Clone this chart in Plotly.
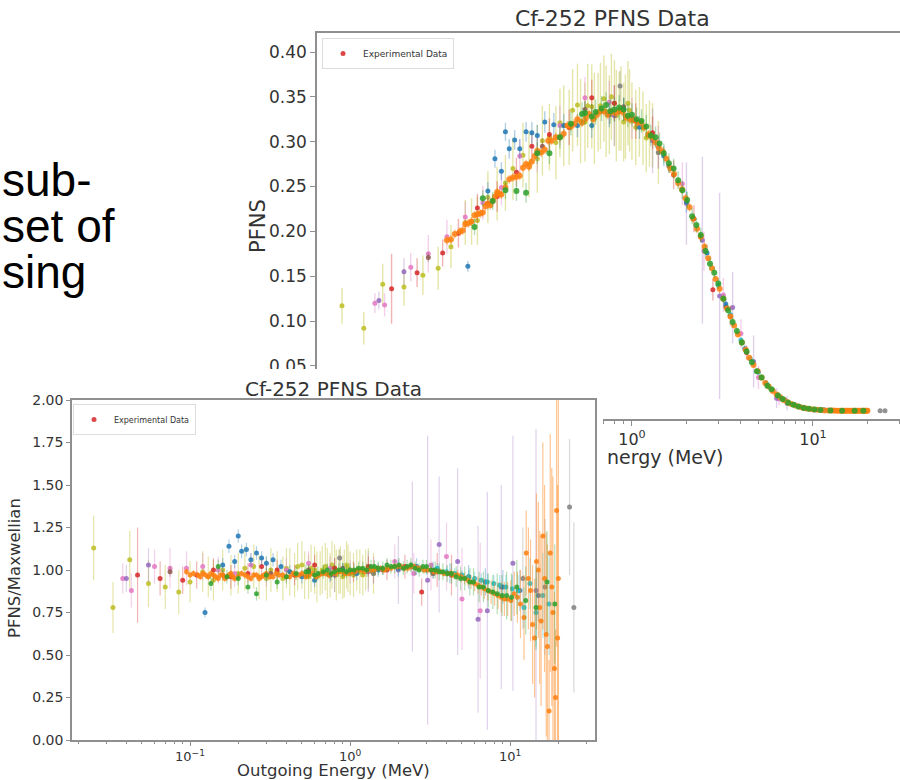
import plotly.graph_objects as go

# ---------------- data ----------------
# energies (MeV), ratio to Maxwellian (+err), PFNS (+err)
E_OLIVE = [0.025, 0.033, 0.042, 0.055, 0.07, 0.085, 0.1, 0.13, 0.16, 0.2, 0.25, 0.3, 0.35, 0.4, 0.45,
           0.5, 0.55, 0.6, 0.65, 0.7, 0.75, 0.8, 0.85, 0.9, 0.95, 1.0, 1.1, 1.2, 1.3]
R_OLIVE = [1.13, 0.78, 1.06, 0.92, 0.90, 0.87, 0.93, 0.96, 1.00, 0.98, 1.02, 0.95, 0.99, 1.01, 0.97,
           1.03, 0.96, 1.00, 0.98, 1.02, 0.97, 1.01, 0.99, 0.96, 1.03, 0.98, 1.00, 0.97, 1.01]
RE_OLIVE = [0.19, 0.15, 0.17, 0.14, 0.13, 0.13, 0.12, 0.12, 0.12, 0.12, 0.13, 0.13, 0.12, 0.12, 0.13,
            0.14, 0.13, 0.14, 0.13, 0.14, 0.13, 0.14, 0.13, 0.13, 0.14, 0.13, 0.12, 0.12, 0.12]
P_OLIVE = [0.117, 0.092, 0.141, 0.138, 0.151, 0.159, 0.183, 0.211, 0.238, 0.254, 0.285, 0.281, 0.305, 0.321, 0.316,
           0.341, 0.322, 0.339, 0.333, 0.348, 0.330, 0.343, 0.334, 0.322, 0.343, 0.323, 0.322, 0.304, 0.307]
PE_OLIVE = [0.020, 0.018, 0.023, 0.021, 0.022, 0.024, 0.024, 0.026, 0.029, 0.031, 0.036, 0.038, 0.037, 0.038, 0.042,
            0.046, 0.044, 0.047, 0.044, 0.048, 0.044, 0.048, 0.044, 0.044, 0.047, 0.043, 0.039, 0.038, 0.036]

E_OLIVE_B = [0.12, 0.14, 0.18, 0.22, 0.27, 0.32, 0.38, 0.42, 0.47, 0.52, 0.57, 0.62, 0.67, 0.72, 0.77, 0.82, 0.87,
             0.92, 0.97, 1.05, 1.15, 1.25, 1.4]
R_OLIVE_B = [0.99, 0.94, 0.97, 1.01, 0.96, 1.0, 0.95, 0.99, 1.02, 0.97, 1.01, 0.96, 1.0, 0.98, 1.03, 0.97, 1.0,
             0.98, 1.01, 0.97, 0.99, 1.0, 0.98]
RE_OLIVE_B = [0.12, 0.12, 0.12, 0.13, 0.13, 0.13, 0.13, 0.14, 0.14, 0.14, 0.14, 0.15, 0.14, 0.15, 0.14, 0.15, 0.14,
              0.14, 0.14, 0.13, 0.13, 0.12, 0.12]
P_OLIVE_B = [0.210, 0.212, 0.242, 0.270, 0.275, 0.301, 0.299, 0.318, 0.335, 0.323, 0.340, 0.326, 0.340, 0.334, 0.350,
             0.329, 0.337, 0.328, 0.335, 0.316, 0.315, 0.309, 0.288]
PE_OLIVE_B = [0.025, 0.027, 0.030, 0.035, 0.037, 0.039, 0.041, 0.045, 0.046, 0.047, 0.047, 0.051, 0.048, 0.051, 0.048,
              0.051, 0.047, 0.047, 0.046, 0.042, 0.041, 0.037, 0.035]

E_PINK = [0.038, 0.043, 0.06, 0.075, 0.095, 0.12, 0.15, 0.19, 0.24, 0.3, 0.4, 0.55, 0.75, 1.0, 1.4, 1.9, 2.5, 3.2, 4.0, 5.0, 6.5]
R_PINK = [0.95, 0.88, 1.02, 1.01, 1.01, 1.02, 1.0, 0.98, 1.03, 0.97, 1.0, 1.04, 1.01, 0.99, 1.0, 1.05, 0.98, 1.03, 1.08, 0.83, 0.76]
RE_PINK = [0.09, 0.1, 0.1, 0.12, 0.1, 0.08, 0.08, 0.08, 0.07, 0.07, 0.07, 0.07, 0.07, 0.07, 0.08, 0.1, 0.12, 0.15, 0.2, 0.3, 0.4]
P_PINK = [0.120, 0.118, 0.160, 0.175, 0.194, 0.216, 0.232, 0.249, 0.284, 0.287, 0.318, 0.349, 0.344, 0.326, 0.294,
          0.253, 0.178, 0.129, 0.086, 0.037, 0.013]
PE_PINK = [0.011, 0.013, 0.016, 0.021, 0.019, 0.017, 0.019, 0.020, 0.019, 0.021, 0.022, 0.023, 0.024, 0.023, 0.024,
           0.024, 0.022, 0.019, 0.016, 0.013, 0.007]

E_PURPLE = [0.04, 0.055, 0.8, 1.3, 2.0, 2.45, 3.05, 3.6, 4.7, 6.3, 7.2, 8.8, 10.4, 14.5]
R_PURPLE = [0.95, 1.03, 0.97, 0.99, 1.0, 1.02, 0.94, 1.15, 1.05, 0.71, 0.76, 0.9, 1.04, 0.88]
RE_PURPLE = [0.08, 0.1, 0.1, 0.12, 0.2, 0.5, 0.85, 0.4, 0.55, 0.55, 0.7, 0.6, 0.75, 0.95]
P_PURPLE = [0.123, 0.155, 0.329, 0.301, 0.231, 0.190, 0.128, 0.115, 0.055, 0.014, 0.0085, 0.0036, 0.0015, 0.0001]
PE_PURPLE = [0.010, 0.015, 0.034, 0.036, 0.046, 0.093, 0.115, 0.040, 0.029, 0.011, 0.008, 0.0024, 0.001, 0.0001]

E_GRAY = [0.86, 1.4, 12.0, 16.5, 23.5, 25.0]
R_GRAY = [1.07, 0.98, 0.95, 0.9, 1.37, 0.78]
RE_GRAY = [0.05, 0.06, 0.3, 0.4, 0.4, 0.5]
P_GRAY = [0.362, 0.288, 0.0005, 0.0, 0.0, 0.0]
PE_GRAY = [0.017, 0.018, 0.0002, 0.0, 0.0, 0.0]

E_BROWN = [0.075, 0.16, 0.32, 0.55, 0.9, 1.6, 2.4, 3.3]
R_BROWN = [0.99, 0.97, 0.98, 1.0, 1.01, 1.0, 1.02, 0.98]
RE_BROWN = [0.03, 0.03, 0.03, 0.03, 0.03, 0.03, 0.03, 0.03]
P_BROWN = [0.171, 0.231, 0.295, 0.336, 0.339, 0.273, 0.194, 0.116]
PE_BROWN = [0.005, 0.007, 0.009, 0.010, 0.010, 0.008, 0.006, 0.004]

E_RED = [0.047, 0.065, 0.09, 0.11, 0.14, 0.18, 0.23, 0.28, 0.35, 0.45, 0.6, 0.8, 1.05, 1.3, 1.7, 2.2, 2.8, 3.5, 4.3]
R_RED = [0.97, 0.95, 0.94, 0.97, 1.0, 0.96, 0.98, 1.02, 1.0, 0.97, 1.03, 1.01, 0.99, 1.02, 1.0, 1.02, 0.87, 1.0, 0.97]
RE_RED = [0.28, 0.1, 0.08, 0.08, 0.07, 0.07, 0.06, 0.06, 0.06, 0.06, 0.06, 0.06, 0.06, 0.06, 0.06, 0.07, 0.08, 0.1, 0.12]
P_RED = [0.136, 0.154, 0.176, 0.198, 0.226, 0.239, 0.266, 0.295, 0.308, 0.316, 0.349, 0.343, 0.323, 0.310, 0.263,
         0.214, 0.135, 0.106, 0.065]
PE_RED = [0.039, 0.016, 0.015, 0.016, 0.016, 0.017, 0.016, 0.017, 0.018, 0.020, 0.020, 0.020, 0.020, 0.018, 0.016,
          0.015, 0.012, 0.011, 0.008]

E_BLUE = [0.124, 0.16, 0.175, 0.19, 0.2, 0.21, 0.225, 0.24, 0.26, 0.28, 0.3, 0.33, 0.37, 0.42, 0.5, 0.6, 0.75,
          0.9, 1.1, 1.5, 2.0, 2.6, 3.3, 4.2, 5.5, 7.0, 9.0, 11.5, 15.0]
R_BLUE = [0.75, 1.03, 1.14, 1.05, 1.2, 1.11, 1.12, 1.06, 1.1, 1.07, 1.04, 1.06, 1.02, 0.99, 0.96, 0.94, 0.97,
          1.0, 0.98, 1.0, 1.01, 1.02, 1.0, 0.98, 0.96, 0.93, 0.9, 0.88, 0.85]
RE_BLUE = [0.03, 0.04, 0.04, 0.04, 0.04, 0.04, 0.04, 0.04, 0.04, 0.04, 0.04, 0.04, 0.04, 0.04, 0.04, 0.04, 0.04,
           0.04, 0.04, 0.04, 0.05, 0.05, 0.05, 0.06, 0.07, 0.08, 0.1, 0.12, 0.15]
P_BLUE = [0.161, 0.245, 0.281, 0.267, 0.311, 0.292, 0.302, 0.292, 0.311, 0.310, 0.307, 0.322, 0.319, 0.318, 0.318,
          0.318, 0.330, 0.336, 0.316, 0.284, 0.233, 0.176, 0.119, 0.069, 0.031, 0.012, 0.003, 0.001, 0.0]
PE_BLUE = [0.006, 0.010, 0.010, 0.010, 0.010, 0.011, 0.011, 0.011, 0.011, 0.012, 0.012, 0.012, 0.013, 0.013, 0.013,
           0.014, 0.014, 0.013, 0.013, 0.011, 0.012, 0.009, 0.006, 0.004, 0.002, 0.001, 0.0004, 0.0001, 0.0]

E_CYAN = [3.0, 3.5, 4.0, 4.5, 5.0, 5.5, 6.0, 6.6, 7.2, 7.9, 8.6, 9.4, 10.3, 11.2, 12.2, 13.3, 14.5, 16.0, 17.5]
R_CYAN = [1.0, 1.01, 0.99, 0.98, 0.97, 0.96, 0.95, 0.94, 0.93, 0.92, 0.91, 0.9, 0.89, 0.88, 0.78, 0.92, 0.75, 0.85, 0.8]
RE_CYAN = [0.03, 0.03, 0.03, 0.03, 0.03, 0.04, 0.04, 0.04, 0.05, 0.05, 0.06, 0.07, 0.08, 0.09, 0.12, 0.15, 0.2, 0.25, 0.3]
P_CYAN = [0.140, 0.107, 0.079, 0.058, 0.043, 0.031, 0.023, 0.015, 0.010, 0.0066, 0.0042, 0.0024, 0.0013, 0.0007,
          0.0003, 0.0002, 0.0001, 0.0, 0.0]
PE_CYAN = [0.004, 0.003, 0.002, 0.002, 0.001, 0.001, 0.001, 0.001, 0.0005, 0.0004, 0.0003, 0.0002, 0.0001, 0.0001,
           0.0, 0.0, 0.0, 0.0, 0.0]

E_ORANGE = [0.095, 0.105, 0.112, 0.12, 0.13, 0.14, 0.15, 0.16, 0.17, 0.18, 0.19, 0.2, 0.22, 0.24, 0.26, 0.28, 0.3,
            0.33, 0.36, 0.4, 0.44, 0.48, 0.53, 0.58, 0.64, 0.7, 0.77, 0.85, 0.93, 1.02, 1.12, 1.23, 1.35, 1.48,
            1.63, 1.8, 1.98, 2.18, 2.4, 2.64, 2.9, 3.2, 3.5, 3.85, 4.25, 4.7, 5.2, 5.7, 6.3, 6.9, 7.6, 8.4, 9.2,
            10.1, 11.1, 12.2, 13.0, 13.8, 14.6, 15.3, 16.0, 16.8, 17.5, 18.2, 18.9, 19.5, 20.0]
R_ORANGE = [0.99, 0.98, 0.97, 0.98, 0.96, 0.97, 0.95, 0.97, 0.96, 0.98, 0.95, 0.96, 0.97, 0.95, 0.97, 0.96, 0.98,
            0.96, 0.97, 0.96, 0.98, 0.97, 0.96, 0.98, 0.97, 0.98, 0.98, 0.99, 0.98, 0.99, 1.0, 0.99, 1.0, 1.01,
            1.0, 1.01, 1.02, 1.01, 1.02, 1.01, 1.0, 1.0, 0.99, 0.98, 0.98, 0.97, 0.95, 0.93, 0.91, 0.89, 0.87, 0.85,
            0.83, 0.82, 0.84, 0.72, 0.95, 0.68, 1.05, 0.78, 1.2, 0.62, 0.17, 0.9, 0.42, 1.35, 0.95]
RE_ORANGE = [0.02, 0.02, 0.02, 0.02, 0.02, 0.02, 0.02, 0.02, 0.02, 0.02, 0.02, 0.02, 0.02, 0.02, 0.02, 0.02, 0.02,
             0.02, 0.02, 0.02, 0.02, 0.02, 0.02, 0.02, 0.02, 0.02, 0.02, 0.02, 0.02, 0.02, 0.02, 0.02, 0.02, 0.02,
             0.02, 0.02, 0.02, 0.02, 0.02, 0.02, 0.02, 0.02, 0.02, 0.02, 0.025, 0.03, 0.035, 0.04, 0.05, 0.06, 0.07,
             0.08, 0.1, 0.12, 0.15, 0.25, 0.3, 0.35, 0.4, 0.45, 0.55, 0.6, 0.3, 0.7, 0.45, 0.8, 1.15]
P_ORANGE = [0.190, 0.197, 0.200, 0.208, 0.211, 0.219, 0.221, 0.231, 0.234, 0.244, 0.241, 0.249, 0.260, 0.262, 0.275,
            0.278, 0.290, 0.291, 0.301, 0.305, 0.318, 0.320, 0.321, 0.331, 0.330, 0.334, 0.333, 0.334, 0.327, 0.325,
            0.321, 0.308, 0.299, 0.289, 0.270, 0.254, 0.237, 0.214, 0.194, 0.170, 0.147, 0.125, 0.105, 0.085, 0.068,
            0.051, 0.037, 0.027, 0.018, 0.012, 0.0076, 0.0044, 0.0026, 0.0014, 0.0007, 0.0003, 0.0002, 0.0001,
            0.0001, 0.0001, 0.0, 0.0, 0.0, 0.0, 0.0, 0.0, 0.0]
PE_ORANGE = [0.005, 0.005, 0.005, 0.005, 0.005, 0.005, 0.005, 0.005, 0.005, 0.005, 0.005, 0.005, 0.005, 0.005, 0.005,
             0.005, 0.005, 0.005, 0.005, 0.005, 0.005, 0.005, 0.005, 0.005, 0.005, 0.005, 0.005, 0.005, 0.005, 0.005,
             0.005, 0.005, 0.005, 0.005, 0.005, 0.005, 0.005, 0.004, 0.004, 0.003, 0.003, 0.003, 0.002, 0.002, 0.002,
             0.0015, 0.0013, 0.0011, 0.001, 0.0008, 0.0006, 0.0004, 0.0003, 0.0002, 0.0001, 0.0001, 0.0, 0.0, 0.0,
             0.0, 0.0, 0.0, 0.0, 0.0, 0.0, 0.0, 0.0]

# second, interleaved orange data set (same experiment family)
E_ORANGE_B = [0.1, 0.116, 0.125, 0.135, 0.145, 0.155, 0.165, 0.175, 0.185, 0.21, 0.23, 0.25, 0.27, 0.29, 0.315,
              0.345, 0.38, 0.42, 0.46, 0.5, 0.555, 0.61, 0.67, 0.735, 0.81, 0.89, 0.975, 1.07, 1.17, 1.29, 1.41,
              1.55, 1.71, 1.89, 2.08, 2.29, 2.52, 2.77, 3.05, 3.35, 3.67, 4.05, 4.45, 4.95, 5.45, 6.0, 6.6, 7.25,
              8.0, 8.8, 9.65, 10.6, 11.6, 12.6, 13.4, 14.2, 15.0, 15.6, 16.4, 17.1, 17.8, 18.5, 19.2, 19.8]
R_ORANGE_B = [0.97, 0.96, 0.97, 0.98, 0.96, 0.97, 0.95, 0.97, 0.96, 0.98, 0.96, 0.97, 0.95, 0.97, 0.96, 0.98, 0.97,
              0.96, 0.97, 0.98, 0.97, 0.96, 0.98, 0.97, 0.98, 0.99, 0.98, 0.99, 1.0, 1.0, 1.0, 1.01, 1.01, 1.02,
              1.02, 1.01, 1.02, 1.01, 1.0, 0.99, 0.99, 0.98, 0.97, 0.96, 0.94, 0.92, 0.9, 0.88, 0.86, 0.84, 0.83,
              0.86, 0.8, 1.1, 0.88, 0.6, 1.0, 0.7, 0.95, 0.55, 1.1, 0.75, 0.25, 0.6]
RE_ORANGE_B = [0.02, 0.02, 0.02, 0.02, 0.02, 0.02, 0.02, 0.02, 0.02, 0.02, 0.02, 0.02, 0.02, 0.02, 0.02, 0.02, 0.02,
               0.02, 0.02, 0.02, 0.02, 0.02, 0.02, 0.02, 0.02, 0.02, 0.02, 0.02, 0.02, 0.02, 0.02, 0.02, 0.02, 0.02,
               0.02, 0.02, 0.02, 0.02, 0.02, 0.02, 0.02, 0.02, 0.025, 0.03, 0.035, 0.045, 0.05, 0.06, 0.07, 0.09,
               0.1, 0.13, 0.2, 0.25, 0.3, 0.35, 0.4, 0.5, 0.55, 0.6, 0.7, 0.8, 0.4, 0.9]
P_ORANGE_B = [0.191, 0.201, 0.209, 0.218, 0.220, 0.228, 0.229, 0.239, 0.242, 0.258, 0.261, 0.271, 0.272, 0.284, 0.288,
              0.301, 0.305, 0.309, 0.317, 0.325, 0.326, 0.325, 0.334, 0.330, 0.332, 0.333, 0.325, 0.321, 0.316, 0.305,
              0.293, 0.281, 0.264, 0.247, 0.227, 0.203, 0.183, 0.159, 0.136, 0.114, 0.095, 0.076, 0.059, 0.044, 0.031,
              0.022, 0.015, 0.0096, 0.0058, 0.0034, 0.0019, 0.0010, 0.0004, 0.0002, 0.0001, 0.0001, 0.0, 0.0, 0.0,
              0.0, 0.0, 0.0, 0.0, 0.0]
PE_ORANGE_B = [0.005, 0.005, 0.005, 0.005, 0.005, 0.005, 0.005, 0.005, 0.005, 0.005, 0.005, 0.005, 0.005, 0.005,
               0.005, 0.005, 0.005, 0.005, 0.005, 0.005, 0.005, 0.005, 0.005, 0.005, 0.005, 0.005, 0.005, 0.005,
               0.005, 0.005, 0.005, 0.005, 0.005, 0.005, 0.005, 0.005, 0.005, 0.005, 0.005, 0.003, 0.002, 0.002,
               0.0015, 0.0013, 0.0012, 0.001, 0.0008, 0.0006, 0.0004, 0.0003, 0.0002, 0.0001, 0.0001, 0.0, 0.0,
               0.0, 0.0, 0.0, 0.0, 0.0, 0.0, 0.0, 0.0, 0.0]

E_GREEN = [0.135, 0.15, 0.17, 0.2, 0.23, 0.26, 0.3, 0.35, 0.4, 0.46, 0.53, 0.6, 0.68, 0.76, 0.85, 0.95, 1.06, 1.2,
           1.35, 1.5, 1.7, 1.9, 2.15, 2.4, 2.7, 3.0, 3.4, 3.8, 4.3, 4.9, 5.6, 6.4, 7.3, 8.3, 9.5, 11.0, 12.5, 14.5,
           17.0, 19.0]
R_GREEN = [0.92, 1.02, 0.96, 0.95, 0.9, 0.86, 0.97, 0.93, 0.96, 0.98, 0.99, 0.97, 0.99, 0.98, 1.0, 0.99, 1.0, 1.01,
           1.02, 1.01, 1.03, 1.02, 1.01, 1.03, 1.0, 1.02, 1.0, 0.99, 0.98, 0.95, 0.93, 0.9, 0.88, 0.86, 0.85, 0.9,
           0.82, 0.78, 0.93, 0.8]
RE_GREEN = [0.04, 0.04, 0.04, 0.04, 0.04, 0.04, 0.04, 0.04, 0.04, 0.04, 0.04, 0.04, 0.04, 0.04, 0.04, 0.04, 0.04,
            0.04, 0.04, 0.04, 0.04, 0.04, 0.04, 0.04, 0.04, 0.04, 0.05, 0.05, 0.06, 0.07, 0.08, 0.09, 0.1, 0.12,
            0.14, 0.16, 0.2, 0.25, 0.3, 0.35]
P_GREEN = [0.205, 0.237, 0.234, 0.246, 0.245, 0.243, 0.287, 0.287, 0.305, 0.320, 0.331, 0.328, 0.337, 0.334, 0.338,
           0.329, 0.325, 0.317, 0.305, 0.287, 0.270, 0.246, 0.217, 0.196, 0.164, 0.142, 0.112, 0.089, 0.066, 0.044,
           0.028, 0.017, 0.009, 0.0048, 0.0022, 0.0007, 0.0002, 0.0001, 0.0, 0.0]
PE_GREEN = [0.009, 0.009, 0.010, 0.010, 0.011, 0.011, 0.012, 0.012, 0.013, 0.013, 0.013, 0.014, 0.014, 0.014, 0.014,
            0.013, 0.013, 0.013, 0.012, 0.011, 0.011, 0.010, 0.009, 0.008, 0.007, 0.006, 0.006, 0.004, 0.004, 0.003,
            0.002, 0.002, 0.001, 0.001, 0.0004, 0.0001, 0.0, 0.0, 0.0, 0.0]

E_GREEN_B = [0.55, 0.63, 0.72, 0.8, 0.9, 1.0, 1.13, 1.27, 1.42, 1.6, 1.8, 2.02, 2.27, 2.55, 2.85, 3.2, 3.6, 4.05,
             4.6, 5.2, 5.9, 6.8, 7.8, 8.9, 10.2]
R_GREEN_B = [0.99, 0.98, 1.0, 0.99, 1.0, 1.0, 1.01, 1.0, 1.02, 1.01, 1.02, 1.03, 1.02, 1.01, 1.02, 1.0, 0.99, 0.98,
             0.96, 0.95, 0.93, 0.9, 0.87, 0.85, 0.84]
RE_GREEN_B = [0.04, 0.04, 0.04, 0.04, 0.04, 0.04, 0.04, 0.04, 0.04, 0.04, 0.04, 0.04, 0.04, 0.04, 0.04, 0.04, 0.05,
              0.05, 0.06, 0.07, 0.08, 0.09, 0.1, 0.12, 0.14]
P_GREEN_B = [0.332, 0.333, 0.341, 0.336, 0.336, 0.330, 0.323, 0.307, 0.298, 0.276, 0.257, 0.235, 0.207, 0.178, 0.154,
             0.125, 0.099, 0.076, 0.054, 0.037, 0.024, 0.013, 0.0067, 0.0032, 0.0014]
PE_GREEN_B = [0.013, 0.014, 0.014, 0.014, 0.013, 0.013, 0.013, 0.012, 0.012, 0.011, 0.010, 0.009, 0.008, 0.007, 0.006,
              0.005, 0.005, 0.004, 0.003, 0.003, 0.002, 0.0013, 0.0007, 0.0004, 0.0002]

TOP_Y_TICKS = [0.05, 0.10, 0.15, 0.20, 0.25, 0.30, 0.35, 0.40]
BOT_Y_TICKS = [0.0, 0.25, 0.5, 0.75, 1.0, 1.25, 1.5, 1.75, 2.0]
X_TICKS = [0.1, 1, 10]
X_TICK_TEXT = ["10<sup>\u22121</sup>", "10<sup>0</sup>", "10<sup>1</sup>"]
X_MINOR = [0.02, 0.03, 0.04, 0.05, 0.06, 0.07, 0.08, 0.09, 0.2, 0.3, 0.4, 0.5, 0.6, 0.7, 0.8, 0.9,
           2, 3, 4, 5, 6, 7, 8, 9, 20, 30]
SLIDE_LINES = ["sub-", "set of", "sing"]

# ---------------- styling ----------------
COLORS = {
    "olive": "#bcbd22", "pink": "#e377c2", "purple": "#9467bd", "gray": "#7f7f7f",
    "brown": "#8c564b", "red": "#d62728", "blue": "#1f77b4", "cyan": "#17becf",
    "orange": "#ff7f0e", "green": "#2ca02c",
}
ERR_ALPHA = {"olive": 0.4, "pink": 0.35, "purple": 0.3, "gray": 0.3, "brown": 0.35, "red": 0.35,
             "blue": 0.35, "cyan": 0.35, "orange": 0.45, "green": 0.35}
SIZE_TOP = {"orange": 6, "green": 6}
SIZE_BOT = {"orange": 5, "green": 5}

SERIES = [
    ("olive", E_OLIVE, R_OLIVE, RE_OLIVE, P_OLIVE, PE_OLIVE),
    ("olive", E_OLIVE_B, R_OLIVE_B, RE_OLIVE_B, P_OLIVE_B, PE_OLIVE_B),
    ("pink", E_PINK, R_PINK, RE_PINK, P_PINK, PE_PINK),
    ("purple", E_PURPLE, R_PURPLE, RE_PURPLE, P_PURPLE, PE_PURPLE),
    ("gray", E_GRAY, R_GRAY, RE_GRAY, P_GRAY, PE_GRAY),
    ("brown", E_BROWN, R_BROWN, RE_BROWN, P_BROWN, PE_BROWN),
    ("red", E_RED, R_RED, RE_RED, P_RED, PE_RED),
    ("blue", E_BLUE, R_BLUE, RE_BLUE, P_BLUE, PE_BLUE),
    ("cyan", E_CYAN, R_CYAN, RE_CYAN, P_CYAN, PE_CYAN),
    ("orange", E_ORANGE, R_ORANGE, RE_ORANGE, P_ORANGE, PE_ORANGE),
    ("orange", E_ORANGE_B, R_ORANGE_B, RE_ORANGE_B, P_ORANGE_B, PE_ORANGE_B),
    ("green", E_GREEN, R_GREEN, RE_GREEN, P_GREEN, PE_GREEN),
    ("green", E_GREEN_B, R_GREEN_B, RE_GREEN_B, P_GREEN_B, PE_GREEN_B),
]


def rgba(hx, a):
    hx = hx.lstrip("#")
    r, g, b = int(hx[0:2], 16), int(hx[2:4], 16), int(hx[4:6], 16)
    return f"rgba({r},{g},{b},{a})"


W, H = 900, 780


def px(xp):
    return xp / W


def py(yp):
    return 1 - yp / H


fig = go.Figure()

# top chart (PFNS)
for name, e, r, re_, p, pe in SERIES:
    c = COLORS[name]
    fig.add_trace(go.Scatter(
        x=e, y=p, mode="markers", xaxis="x", yaxis="y",
        marker=dict(color=c, size=SIZE_TOP.get(name, 5), opacity=0.85),
        error_y=dict(type="data", array=pe, color=rgba(c, ERR_ALPHA[name]), thickness=1.4, width=0),
        name="Experimental Data", showlegend=(name == "red"), legend="legend", hoverinfo="skip"))

# white "card" (the pasted lower image) that hides the lower-left part of the top chart
fig.add_trace(go.Scatter(x=[None], y=[None], xaxis="x2", yaxis="y2", showlegend=False, hoverinfo="skip"))

# bottom chart (ratio to Maxwellian)
for name, e, r, re_, p, pe in SERIES:
    c = COLORS[name]
    fig.add_trace(go.Scatter(
        x=e, y=r, mode="markers", xaxis="x3", yaxis="y3",
        marker=dict(color=c, size=SIZE_BOT.get(name, 5), opacity=0.85),
        error_y=dict(type="data", array=re_, color=rgba(c, ERR_ALPHA[name]), thickness=1.2, width=0),
        name="Experimental Data", showlegend=(name == "red"), legend="legend2", hoverinfo="skip"))

AXC = "#8f8f8f"
TXT = "#333333"

common_axis = dict(showline=True, linecolor=AXC, linewidth=1.6, ticks="outside", tickcolor=AXC,
                   showgrid=False, zeroline=False)

fig.update_layout(
    width=W, height=H, margin=dict(l=0, r=0, t=0, b=0, autoexpand=False),
    paper_bgcolor="white", plot_bgcolor="white",
    font=dict(family="DejaVu Sans", color=TXT),
    hovermode=False,
    xaxis=dict(type="log", domain=[px(317), 1.0], range=[-1.740, 1.481], anchor="y", mirror=True,
               ticklen=5, tickvals=X_TICKS, ticktext=X_TICK_TEXT, tickfont=dict(size=16, color=TXT),
               minor=dict(ticks="outside", ticklen=3, tickcolor=AXC, tickvals=X_MINOR, showgrid=False),
               **common_axis),
    yaxis=dict(domain=[py(419), py(33)], range=[-0.0092, 0.4212], anchor="x", mirror=False,
               ticklen=5, tickvals=TOP_Y_TICKS, tickformat=".2f", tickfont=dict(size=17, color=TXT),
               **common_axis),
    xaxis2=dict(domain=[0, px(603)], range=[0, 1], anchor="y2", visible=False),
    yaxis2=dict(domain=[0, py(369)], range=[0, 1], anchor="x2", visible=False),
    xaxis3=dict(type="log", domain=[px(72), px(595)], range=[-1.7375, 1.53], anchor="y3", mirror=True,
                ticklen=4, tickvals=X_TICKS, ticktext=X_TICK_TEXT, tickfont=dict(size=13, color=TXT),
                minor=dict(ticks="outside", ticklen=2.5, tickcolor=AXC, tickvals=X_MINOR, showgrid=False),
                **common_axis),
    yaxis3=dict(domain=[py(740), py(400)], range=[0, 2], anchor="x3", mirror=True,
                ticklen=4, tickvals=BOT_Y_TICKS, tickformat=".2f", tickfont=dict(size=14, color=TXT),
                **common_axis),
    legend=dict(x=px(322), y=py(38), xanchor="left", yanchor="top", bgcolor="rgba(255,255,255,0.85)",
                bordercolor="#dddddd", borderwidth=1, font=dict(size=9, color=TXT), itemwidth=30),
    legend2=dict(x=px(73), y=py(404), xanchor="left", yanchor="top", bgcolor="rgba(255,255,255,0.85)",
                 bordercolor="#dddddd", borderwidth=1, font=dict(size=8, color=TXT), itemwidth=30),
    showlegend=True,
)

ann = [
    dict(text="Cf-252 PFNS Data", x=px(612), y=py(18), font=dict(size=22, color=TXT)),
    dict(text="PFNS", x=px(258), y=py(226), textangle=-90, font=dict(size=21, color=TXT)),
    dict(text="nergy (MeV)", x=px(605), y=py(457), xanchor="left", font=dict(size=19, color=TXT)),
    dict(text="Cf-252 PFNS Data", x=px(333), y=py(389), font=dict(size=20, color=TXT)),
    dict(text="PFNS/Maxwellian", x=px(14), y=py(568), textangle=-90, font=dict(size=16.5, color=TXT)),
    dict(text="Outgoing Energy (MeV)", x=px(333), y=py(770), font=dict(size=16.5, color=TXT)),
]
for i, line in enumerate(SLIDE_LINES):
    ann.append(dict(text=line, x=0, y=py(180 + 46 * i), xanchor="left",
                    font=dict(size=46, color="black", family="Liberation Sans")))
for a in ann:
    a.setdefault("xanchor", "center")
    a.update(xref="paper", yref="paper", showarrow=False, yanchor="middle")
fig.update_layout(annotations=ann)

fig.write_html("out.html", config={"displayModeBar": False},
               post_script="document.body.style.margin='0';")
